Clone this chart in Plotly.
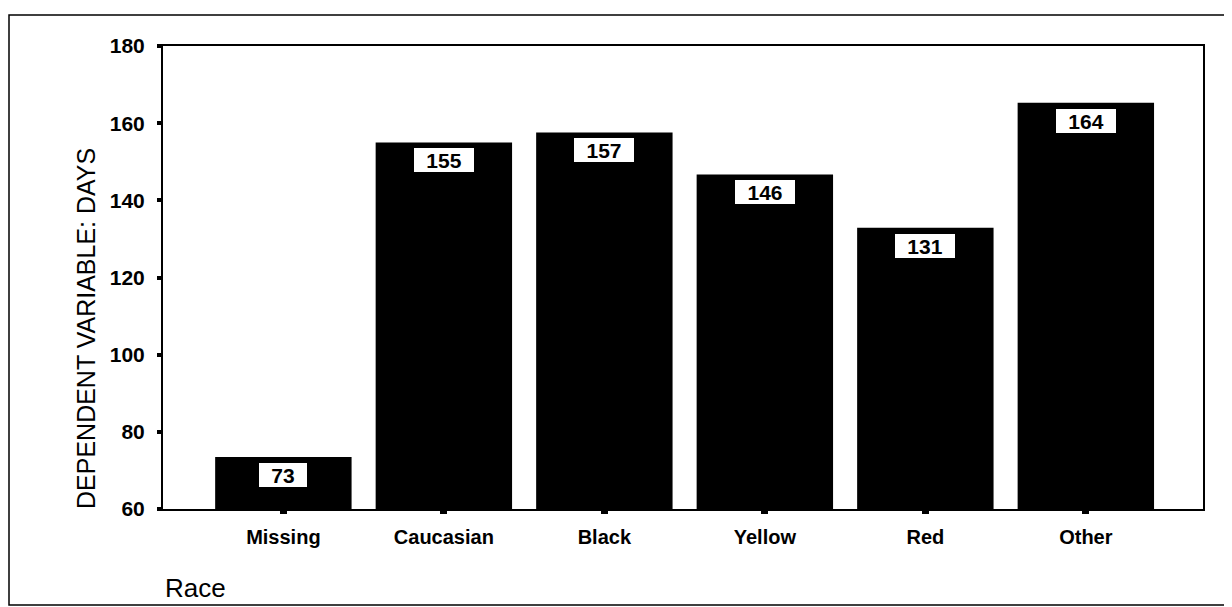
import plotly.graph_objects as go


# === Data ===

races = ["Missing", "Caucasian", "Black", "Yellow", "Red", "Other"]
days = [73.5, 155.0, 157.6, 146.7, 132.9, 165.3]
day_labels = ["73", "155", "157", "146", "131", "164"]
y_ticks = [60, 80, 100, 120, 140, 160, 180]


# === Geometry (pixels; page body adds an 8px offset) ===

OFF = 8
W, H = 1232 - OFF, 607 - OFF
L, R, T, B = 163 - OFF, 29, 46 - OFF, 98
PW, PH = W - L - R, H - T - B


def px_x(x):
    return (x - OFF - L) / PW


def px_y(y):
    return (H - B - (y - OFF)) / PH


FONT = "Liberation Sans, Arial, sans-serif"

fig = go.Figure(
    go.Bar(
        x=races,
        y=days,
        width=0.85,
        marker=dict(color="#000000", line=dict(width=0)),
        hoverinfo="x+y",
    )
)

# value boxes near the top of each bar
for race, val, lab in zip(races, days, day_labels):
    fig.add_annotation(
        x=race, y=val, text="<b>%s</b>" % lab,
        showarrow=False, yanchor="top", yshift=-5,
        font=dict(family=FONT, size=21, color="#000000"),
        bgcolor="#FFFFFF", bordercolor="#000000", borderwidth=1,
        borderpad=1, width=12 * len(lab) + 22, height=22,
    )

# y title, rotated
fig.add_annotation(
    text="DEPENDENT VARIABLE: DAYS",
    x=px_x(70), y=px_y(329), xref="paper", yref="paper",
    textangle=-90, showarrow=False,
    font=dict(family=FONT, size=25, color="#000000"),
)

# x title
fig.add_annotation(
    text="Race",
    x=px_x(163), y=px_y(588), xref="paper", yref="paper",
    xanchor="left", yanchor="middle", showarrow=False,
    font=dict(family=FONT, size=26, color="#000000"),
)

# outer frame
fig.add_shape(
    type="rect", xref="paper", yref="paper",
    x0=px_x(9), x1=px_x(1245), y0=px_y(605), y1=px_y(15),
    line=dict(color="#000000", width=1.5), layer="below",
)

fig.update_layout(
    width=W,
    height=H,
    margin=dict(l=L, r=R, t=T, b=B),
    plot_bgcolor="#FFFFFF",
    paper_bgcolor="#FFFFFF",
    showlegend=False,
    bargap=0.15,
    xaxis=dict(
        type="category",
        range=[-0.75, 5.73],
        showgrid=False,
        showline=True,
        linecolor="#000000",
        linewidth=2,
        mirror=True,
        ticks="outside",
        ticklen=3,
        tickwidth=7,
        tickcolor="#000000",
        ticklabelstandoff=6,
        tickfont=dict(family=FONT, size=20, color="#000000", weight="bold"),
    ),
    yaxis=dict(
        range=[60, 180],
        tickvals=y_ticks,
        showgrid=False,
        zeroline=False,
        showline=True,
        linecolor="#000000",
        linewidth=2,
        mirror=True,
        ticks="outside",
        ticklen=4,
        tickwidth=4,
        tickcolor="#000000",
        ticklabelstandoff=8,
        tickfont=dict(family=FONT, size=21, color="#000000", weight="bold"),
    ),
)

fig.write_html("out.html")
